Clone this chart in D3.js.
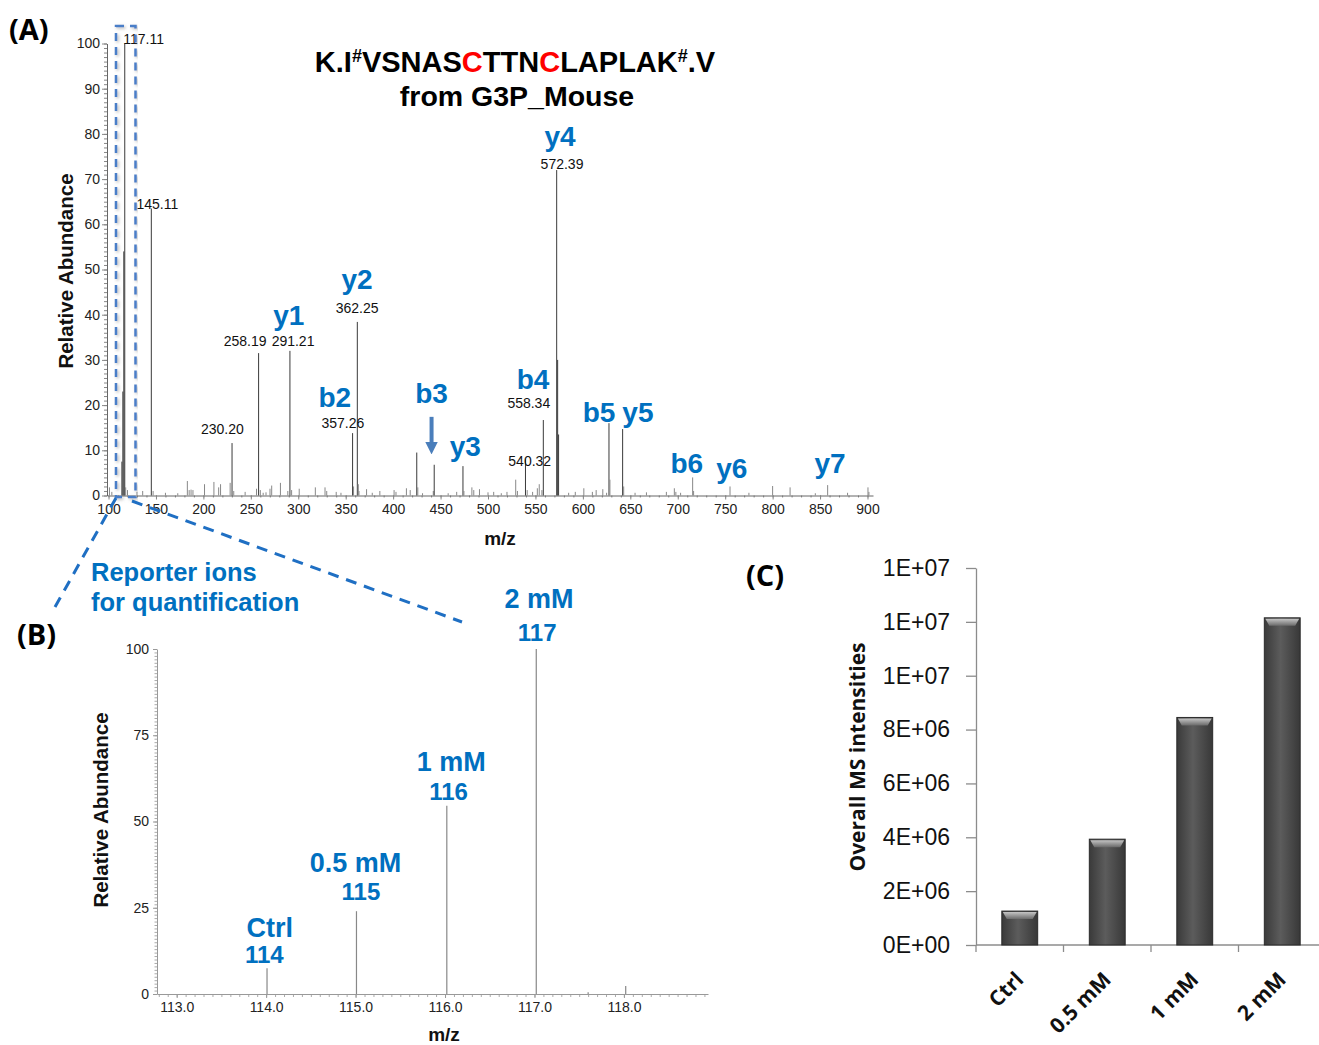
<!DOCTYPE html>
<html>
<head>
<meta charset="utf-8">
<script src="https://cdn.jsdelivr.net/npm/d3@7"></script>
<style>
body { margin: 0; background: #fff; }
svg { display: block; }
text { font-family: "Liberation Sans", Arial, sans-serif; }
.cal { font-family: "Open Sans", sans-serif; }
</style>
</head>
<body>
<svg width="1319" height="1045"></svg>
<script>
// ---------- data ----------
// panel A: MS/MS spectrum (m/z, relative abundance)
const spectrumMz = [101, 103.5, 114.11, 115.11, 116.11, 117.11, 118.1, 120, 130, 136, 145.11, 147,
  160, 173, 183.1, 185, 187, 189, 201.2, 211.1, 216.1, 218.1, 228.2, 230.2, 232, 244, 256, 258.19, 260,
  263, 266, 270.2, 272, 281.2, 289, 291.21, 293, 301, 318, 328.2, 330, 340, 345, 357.26, 358.3,
  362.25, 363.3, 364, 372, 378, 386, 401, 403, 414, 418, 424.9, 426, 431, 442.3, 443.3, 458, 467,
  473.6, 474.6, 483, 485, 491, 500, 506, 514, 520, 529.2, 531, 539.5, 541.3, 547, 552, 554, 556.8,
  558.3, 572.39, 573.4, 574.4, 585, 592, 601, 610, 614, 621, 625, 627.5, 628.5, 641.9, 643, 655,
  667, 688, 696.4, 698, 703, 715.7, 716.7, 755.1, 775, 800, 818.4, 845, 858, 879, 900.5, 901.5]
const spectrumInt = [1.8, 0.8, 7.5, 23, 54, 100, 1.8, 1.2, 0.8, 1.0, 63.5, 1.0,
  0.6, 0.5, 3.2, 1.2, 1.3, 1.2, 2.5, 3.0, 1.8, 2.5, 2.8, 11.6, 1.0, 0.8, 1.5, 31.5, 1.2,
  0.6, 0.7, 1.5, 2.2, 2.8, 1.0, 32, 1.2, 1.5, 1.8, 1.8, 1.0, 0.8, 0.6, 13.8, 2.0,
  38.4, 2.5, 1.0, 1.4, 0.6, 1.0, 1.2, 0.8, 1.6, 1.2, 9.5, 1.8, 0.5, 1.0, 6.8, 0.5, 0.8,
  6.5, 1.0, 1.8, 1.2, 1.4, 0.7, 0.8, 0.5, 0.8, 3.5, 1.0, 8.0, 1.2, 0.8, 1.6, 2.5, 1.2,
  16.7, 72, 30, 13.5, 0.6, 0.8, 1.6, 0.8, 1.2, 1.4, 0.6, 16, 3.5, 14.7, 2.0, 0.6,
  0.7, 0.8, 1.6, 0.8, 0.6, 4.0, 1.0, 2.0, 0.6, 2.1, 1.8, 0.5, 2.3, 0.6, 1.8, 0.8]

// peak m/z annotations (text, anchor m/z, anchor abundance)
const massText = ["117.11", "145.11", "230.20", "258.19", "291.21", "362.25", "357.26", "558.34", "540.32", "572.39"]
const massAtMz = [137, 151.5, 220, 244, 294.5, 362, 347, 543, 544, 578]
const massAtInt = [99.9, 63.4, 13.6, 33.1, 33.1, 40.4, 14.9, 19.4, 6.5, 72.2]

// fragment ion names (text, anchor m/z, anchor abundance)
const ionText = ["y4", "y2", "y1", "b2", "b3", "y3", "b4", "b5", "y5", "b6", "y6", "y7"]
const ionAtMz = [576, 362, 290, 338.5, 440.5, 476, 547.5, 617, 658, 709.5, 757, 860.5]
const ionAtInt = [77.3, 45.6, 37.8, 19.6, 20.4, 8.7, 23.6, 16.2, 16.2, 4.9, 3.9, 4.9]

// panel B: reporter ion region
const reporterMz = [114.01, 115.01, 116.02, 117.02, 117.6, 118.02]
const reporterInt = [7.5, 24, 54.6, 100, 0.5, 2.3]
const reporterNames = ["Ctrl", "0.5 mM", "1 mM", "2 mM"]
const reporterNameMz = [114.04, 115.0, 116.07, 117.05]
const reporterNameInt = [16.4, 35.4, 64.6, 112]
const reporterTags = ["114", "115", "116", "117"]
const reporterTagMz = [113.98, 115.06, 116.04, 117.03]
const reporterTagInt = [9.0, 27.2, 56.2, 102.3]

// panel C: overall intensities
const groups = ["Ctrl", "0.5 mM", "1 mM", "2 mM"]
const intensities = [1.26e6, 3.93e6, 8.45e6, 12.15e6]
const intensityTicks = [0, 2e6, 4e6, 6e6, 8e6, 10e6, 12e6, 14e6]

const svg = d3.select("svg")
const blue = "#0070c0"

// ---------- panel A ----------
const xA = d3.scaleLinear().domain([98.4, 905.8]).range([107, 873])
const yA = d3.scaleLinear().domain([0, 100]).range([495.5, 43.5])

svg.append("g")
    .attr("transform", "translate(107,0)")
    .call(d3.axisLeft(yA).tickValues(d3.range(0, 101, 1)).tickSize(3).tickFormat(""))
    .call(g => g.select(".domain").remove())
    .selectAll("line").attr("stroke", "#999")

const axisYA = svg.append("g")
    .attr("transform", "translate(107,0)")
    .call(d3.axisLeft(yA).tickValues(d3.range(0, 101, 10)).tickSize(5).tickSizeOuter(0).tickPadding(2))
axisYA.selectAll("text").attr("font-size", 14).attr("fill", "#222").attr("font-family", "Liberation Sans, Arial")

svg.append("g")
    .attr("transform", "translate(0,495.5)")
    .call(d3.axisBottom(xA).tickValues(d3.range(100, 901, 10)).tickSize(2).tickFormat(""))
    .call(g => g.select(".domain").remove())
    .selectAll("line").attr("stroke", "#999")

const axisXA = svg.append("g")
    .attr("transform", "translate(0,495.5)")
    .call(d3.axisBottom(xA).tickValues(d3.range(100, 901, 50)).tickSize(4).tickSizeOuter(0).tickPadding(5))
axisXA.selectAll("text").attr("font-size", 14).attr("fill", "#222").attr("font-family", "Liberation Sans, Arial")

svg.selectAll(".domain").attr("stroke", "#666")
svg.selectAll(".tick line").attr("stroke", "#888")

svg.append("g").selectAll("line")
    .data(spectrumMz)
    .join("line")
    .attr("x1", d => xA(d)).attr("x2", d => xA(d))
    .attr("y1", yA(0))
    .attr("y2", (d, i) => yA(spectrumInt[i]))
    .attr("stroke", (d, i) => spectrumInt[i] > 5 ? "#3a3a3a" : "#888")
    .attr("stroke-width", 1)

svg.append("g").selectAll("text")
    .data(massText)
    .join("text")
    .attr("x", (d, i) => xA(massAtMz[i]))
    .attr("y", (d, i) => yA(massAtInt[i]))
    .attr("text-anchor", "middle")
    .attr("font-size", 14)
    .attr("fill", "#111")
    .text(d => d)

svg.append("g").selectAll("text")
    .data(ionText)
    .join("text")
    .attr("x", (d, i) => xA(ionAtMz[i]))
    .attr("y", (d, i) => yA(ionAtInt[i]))
    .attr("text-anchor", "middle")
    .attr("font-size", 28)
    .attr("font-weight", "bold")
    .attr("fill", blue)
    .text(d => d)

// arrow pointing at b3
const defs = svg.append("defs")
defs.append("marker")
    .attr("id", "arrowhead")
    .attr("viewBox", "0 0 10 10")
    .attr("refX", 5).attr("refY", 5)
    .attr("markerWidth", 3.2).attr("markerHeight", 3.2)
    .attr("orient", "auto")
    .append("path")
    .attr("d", "M0,0 L10,5 L0,10 Z")
    .attr("fill", "#4a7ebb")

svg.append("line")
    .attr("x1", xA(440.5)).attr("x2", xA(440.5))
    .attr("y1", yA(17.4)).attr("y2", yA(10.5))
    .attr("stroke", "#4a7ebb")
    .attr("stroke-width", 4)
    .attr("marker-end", "url(#arrowhead)")

svg.append("text")
    .attr("x", 66).attr("y", 271)
    .attr("transform", "rotate(-90,66,271)")
    .attr("dy", "0.35em")
    .attr("text-anchor", "middle")
    .attr("font-size", 20.5)
    .attr("font-weight", "bold")
    .attr("fill", "#111")
    .text("Relative Abundance")

svg.append("text")
    .attr("x", 500).attr("y", 545)
    .attr("text-anchor", "middle")
    .attr("font-size", 19)
    .attr("font-weight", "bold")
    .attr("fill", "#111")
    .text("m/z")

// peptide title
const title = svg.append("text")
    .attr("x", 515).attr("y", 72)
    .attr("text-anchor", "middle")
    .attr("font-size", 29)
    .attr("font-weight", "bold")
    .attr("fill", "#000")
const titleParts = [["K.I", 0, "#000", 29], ["#", -10, "#000", 18], ["VSNAS", 10, "#000", 29], ["C", 0, "#ff0000", 29],
  ["TTN", 0, "#000", 29], ["C", 0, "#ff0000", 29], ["LAPLAK", 0, "#000", 29], ["#", -10, "#000", 18], [".V", 10, "#000", 29]]
titleParts.forEach(p => {
    title.append("tspan").attr("dy", p[1]).attr("fill", p[2]).attr("font-size", p[3]).text(p[0])
})
svg.append("text")
    .attr("x", 517).attr("y", 106)
    .attr("text-anchor", "middle")
    .attr("font-size", 28.5)
    .attr("font-weight", "bold")
    .text("from G3P_Mouse")

// zoom box around the reporter ions
defs.append("filter").attr("id", "shadow")
    .append("feDropShadow")
    .attr("dx", 1.5).attr("dy", 1.5).attr("stdDeviation", 1.5)
    .attr("flood-color", "#888").attr("flood-opacity", 0.6)

svg.append("rect")
    .attr("x", 116).attr("y", 26)
    .attr("width", 19.5).attr("height", 471)
    .attr("fill", "none")
    .attr("stroke", "#4a7ec8")
    .attr("stroke-width", 2.5)
    .attr("stroke-dasharray", "8,6")
    .attr("filter", "url(#shadow)")

svg.append("line")
    .attr("x1", 116).attr("y1", 498).attr("x2", 55).attr("y2", 607)
    .attr("stroke", "#1f6fc3").attr("stroke-width", 3).attr("stroke-dasharray", "11,8")
svg.append("line")
    .attr("x1", 132).attr("y1", 501).attr("x2", 462).attr("y2", 622)
    .attr("stroke", "#1f6fc3").attr("stroke-width", 3).attr("stroke-dasharray", "11,8")

svg.append("text").attr("class", "cal")
    .attr("x", 9).attr("y", 40)
    .attr("font-size", 29).attr("font-weight", "bold")
    .text("(A)")

// ---------- panel B ----------
const xB = d3.scaleLinear().domain([112.78, 118.94]).range([157, 708])
const yB = d3.scaleLinear().domain([0, 100]).range([994, 649])

svg.append("g")
    .attr("transform", "translate(157,0)")
    .call(d3.axisLeft(yB).tickValues(d3.range(0, 101, 1)).tickSize(2.5).tickFormat(""))
    .call(g => g.select(".domain").remove())
    .selectAll("line").attr("stroke", "#aaa")

const axisYB = svg.append("g")
    .attr("transform", "translate(157,0)")
    .call(d3.axisLeft(yB).tickValues([0, 25, 50, 75, 100]).tickSize(4).tickSizeOuter(0).tickPadding(4))
axisYB.selectAll("text").attr("font-size", 14).attr("fill", "#222").attr("font-family", "Liberation Sans, Arial")

svg.append("g")
    .attr("transform", "translate(0,994)")
    .call(d3.axisBottom(xB).tickValues(d3.range(112.8, 118.95, 0.1)).tickSize(3).tickFormat(""))
    .call(g => g.select(".domain").remove())
    .selectAll("line").attr("stroke", "#aaa")

const axisXB = svg.append("g")
    .attr("transform", "translate(0,994)")
    .call(d3.axisBottom(xB).tickValues([113, 114, 115, 116, 117, 118]).tickSize(4).tickSizeOuter(0).tickPadding(4).tickFormat(d3.format(".1f")))
axisXB.selectAll("text").attr("font-size", 14).attr("fill", "#222").attr("font-family", "Liberation Sans, Arial")
axisYB.selectAll(".domain, .tick line").attr("stroke", "#999")
axisXB.selectAll(".domain, .tick line").attr("stroke", "#999")

svg.append("g").selectAll("line")
    .data(reporterMz)
    .join("line")
    .attr("x1", d => xB(d)).attr("x2", d => xB(d))
    .attr("y1", yB(0))
    .attr("y2", (d, i) => yB(reporterInt[i]))
    .attr("stroke", "#888")
    .attr("stroke-width", 1.2)

svg.append("g").selectAll("text")
    .data(reporterNames)
    .join("text")
    .attr("x", (d, i) => xB(reporterNameMz[i]))
    .attr("y", (d, i) => yB(reporterNameInt[i]))
    .attr("text-anchor", "middle")
    .attr("font-size", 27).attr("font-weight", "bold")
    .attr("fill", blue)
    .text(d => d)

svg.append("g").selectAll("text")
    .data(reporterTags)
    .join("text")
    .attr("x", (d, i) => xB(reporterTagMz[i]))
    .attr("y", (d, i) => yB(reporterTagInt[i]))
    .attr("text-anchor", "middle")
    .attr("font-size", 24).attr("font-weight", "bold")
    .attr("fill", blue)
    .text(d => d)

svg.append("text")
    .attr("x", 101).attr("y", 810)
    .attr("transform", "rotate(-90,101,810)")
    .attr("dy", "0.35em")
    .attr("text-anchor", "middle")
    .attr("font-size", 20.5).attr("font-weight", "bold")
    .attr("fill", "#111")
    .text("Relative Abundance")

svg.append("text")
    .attr("x", 444).attr("y", 1041)
    .attr("text-anchor", "middle")
    .attr("font-size", 19).attr("font-weight", "bold")
    .attr("fill", "#111")
    .text("m/z")

svg.append("text").attr("x", 91).attr("y", 581)
    .attr("font-size", 25.5).attr("font-weight", "bold").attr("fill", blue)
    .text("Reporter ions")
svg.append("text").attr("x", 91).attr("y", 611)
    .attr("font-size", 25.5).attr("font-weight", "bold").attr("fill", blue)
    .text("for quantification")

svg.append("text").attr("class", "cal")
    .attr("x", 17).attr("y", 645)
    .attr("font-size", 29).attr("font-weight", "bold")
    .text("(B)")

// ---------- panel C ----------
const xC = d3.scaleBand().domain(groups).range([976, 1326]).paddingInner(0.59).paddingOuter(0.295)
const yC = d3.scaleLinear().domain([0, 1.4e7]).range([945, 568])

const sciFormat = v => {
    if (v === 0) return "0E+00"
    const e = Math.floor(Math.log10(v))
    return Math.round(v / Math.pow(10, e)) + "E+" + String(e).padStart(2, "0")
}

const axisYC = svg.append("g")
    .attr("transform", "translate(976,0)")
    .call(d3.axisLeft(yC).tickValues(intensityTicks).tickSize(10).tickSizeOuter(0).tickPadding(16).tickFormat(sciFormat))
axisYC.selectAll("text").attr("font-family", "Lato, 'Open Sans', sans-serif").attr("font-size", 23).attr("fill", "#111")
axisYC.selectAll(".domain, .tick line").attr("stroke", "#8c8c8c").attr("stroke-width", 1.3)

const axisXC = svg.append("g").attr("transform", "translate(0,945)")
axisXC.append("line").attr("x1", 976).attr("x2", 1326).attr("stroke", "#8c8c8c").attr("stroke-width", 1.3)
axisXC.selectAll("line.sep")
    .data([0, 1, 2, 3, 4])
    .join("line")
    .attr("class", "sep")
    .attr("x1", d => 976 + d * xC.step()).attr("x2", d => 976 + d * xC.step())
    .attr("y1", 0).attr("y2", 7)
    .attr("stroke", "#8c8c8c").attr("stroke-width", 1.3)

const grad = defs.append("linearGradient").attr("id", "barGrad").attr("x1", 0).attr("x2", 1).attr("y1", 0).attr("y2", 0)
grad.append("stop").attr("offset", "0%").attr("stop-color", "#3a3a3a")
grad.append("stop").attr("offset", "45%").attr("stop-color", "#5c5c5c")
grad.append("stop").attr("offset", "100%").attr("stop-color", "#383838")
const bevel = defs.append("linearGradient").attr("id", "bevelGrad").attr("x1", 0).attr("x2", 0).attr("y1", 0).attr("y2", 1)
bevel.append("stop").attr("offset", "0%").attr("stop-color", "#c4c4c4")
bevel.append("stop").attr("offset", "100%").attr("stop-color", "#6a6a6a")

const bars = svg.append("g").selectAll("g")
    .data(groups)
    .join("g")

bars.append("rect")
    .attr("x", d => xC(d))
    .attr("y", (d, i) => yC(intensities[i]))
    .attr("width", xC.bandwidth())
    .attr("height", (d, i) => yC(0) - yC(intensities[i]))
    .attr("fill", "url(#barGrad)")
    .attr("stroke", "#2a2a2a")
    .attr("stroke-width", 1)

bars.append("path")
    .attr("d", (d, i) => {
        const x0 = xC(d), x1 = xC(d) + xC.bandwidth(), y0 = yC(intensities[i])
        return `M${x0 + 1},${y0 + 1} L${x1 - 1},${y0 + 1} L${x1 - 5},${y0 + 8} L${x0 + 5},${y0 + 8} Z`
    })
    .attr("fill", "url(#bevelGrad)")

axisXC.selectAll("text")
    .data(groups)
    .join("text")
    .attr("class", "cal")
    .attr("transform", d => `translate(${xC(d) + xC.bandwidth() / 2 + 5},36) rotate(-45)`)
    .attr("text-anchor", "end")
    .attr("font-size", 21).attr("font-weight", "bold")
    .attr("fill", "#111")
    .text(d => d)

svg.append("text").attr("class", "cal")
    .attr("x", 858).attr("y", 757)
    .attr("transform", "rotate(-90,858,757)")
    .attr("dy", "0.35em")
    .attr("text-anchor", "middle")
    .attr("font-size", 21).attr("font-weight", "bold")
    .attr("fill", "#111")
    .text("Overall MS intensities")

svg.append("text").attr("class", "cal")
    .attr("x", 746).attr("y", 586)
    .attr("font-size", 29).attr("font-weight", "bold")
    .text("(C)")
</script>
</body>
</html>
